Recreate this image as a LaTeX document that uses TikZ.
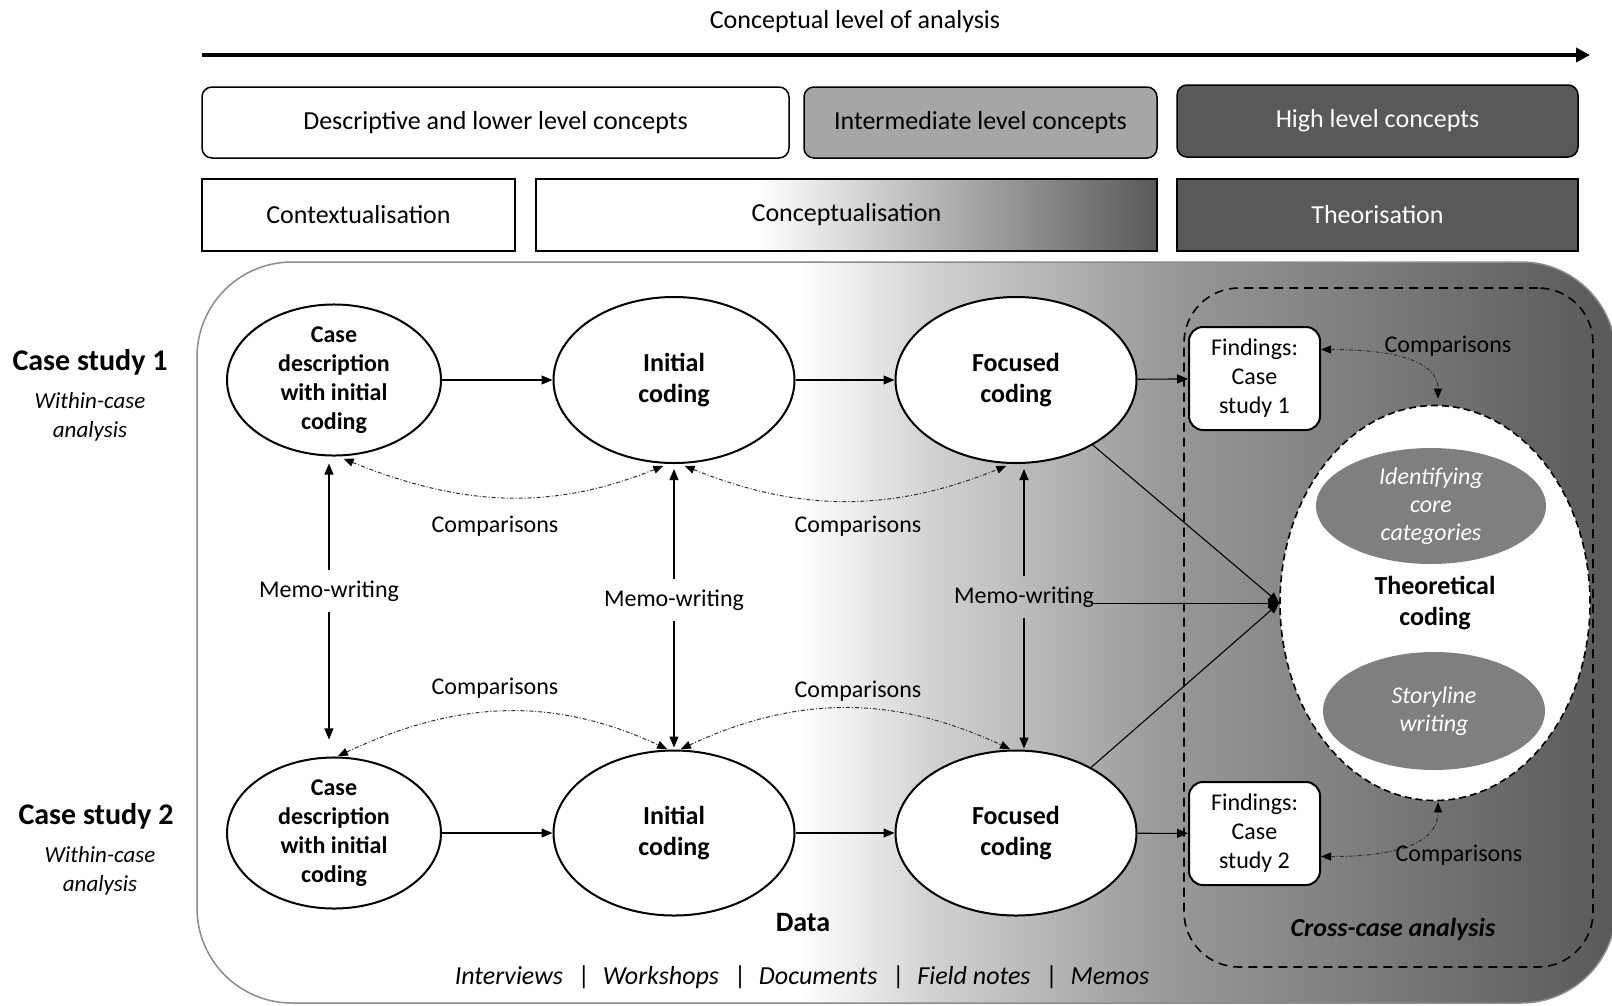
\documentclass[tikz,border=0pt]{standalone}
\usepackage{fontspec}
\setmainfont{Carlito}
\usetikzlibrary{shapes.geometric,arrows.meta}

\definecolor{midgrey}{HTML}{A6A6A6}
\definecolor{darkgrey}{HTML}{595959}
\definecolor{ovalgrey}{HTML}{7F7F7F}
\definecolor{rimgrey}{HTML}{8C8C8C}
\definecolor{cmpgrey}{HTML}{303030}

% white on the left, darkening towards the right edge
\pgfdeclarehorizontalshading{bgfade}{100bp}{rgb(0bp)=(1,1,1); rgb(25bp)=(1,1,1); rgb(33.1bp)=(.82,.82,.82); rgb(47.3bp)=(.60,.60,.60); rgb(61.5bp)=(.47,.47,.47); rgb(74.5bp)=(.35,.35,.35); rgb(100bp)=(.35,.35,.35)}

\newcommand{\fs}[2]{\fontsize{#1}{#2}\selectfont}
\newcommand{\srcsep}{\hspace{15pt}{\upshape|}\hspace{13pt}}

\begin{document}
\begin{tikzpicture}[x=1pt,y=1pt,
  every node/.style={font=\fs{24}{29}, align=center},
  head/.style={draw, line width=1.5pt, rounded corners=10pt, minimum height=71pt, inner sep=0pt, font=\fs{26}{31}},
  phase/.style={draw, line width=1.5pt, minimum height=72pt, inner sep=0pt, font=\fs{26}{31}},
  oval/.style={ellipse, draw, line width=2pt, fill=white, inner sep=0pt, font=\bfseries\fs{26}{31}},
  caseoval/.style={oval, font=\bfseries\fs{24}{29}},
  finding/.style={draw, line width=2pt, rounded corners=14pt, fill=white, minimum width=131pt, minimum height=103pt, inner sep=0pt},
  flow/.style={-{Triangle[length=11pt,width=9pt]}, line width=1.1pt},
  cmp/.style={{Triangle[length=10pt,width=8pt,color=black]}-{Triangle[length=10pt,width=8pt,color=black]}, line width=1pt, dash pattern=on 4pt off 2pt on 1pt off 2pt, draw=cmpgrey},
  memo/.style={inner xsep=2pt, inner ysep=10pt},
  subcat/.style={ellipse, fill=ovalgrey, inner sep=0pt, text=white, font=\itshape\fs{24}{28}},
]
\useasboundingbox (0,0) rectangle (1612,-1005);

% ---- axis of conceptual level ----
\node[font=\fs{26}{31}] (axistitle) at (855,-22) {Conceptual level of analysis};
\coordinate (axisL) at (202,-55);
\coordinate (axisR) at (1590,-55);
\draw[line width=4pt, -{Triangle[length=14pt,width=14pt]}] (axisL) -- (axisR);

% ---- concept levels ----
\node[head, minimum width=587pt] (lvl1) at (495.5,-122.5) {Descriptive and lower level concepts};
\node[head, minimum width=353pt, fill=midgrey] (lvl2) at (980.5,-122.5) {Intermediate level concepts};
\node[head, minimum width=401pt, minimum height=72pt, fill=darkgrey, text=white] (lvl3) at (1377.5,-121) {High level concepts};

% ---- phases ----
\node[phase, minimum width=313pt] (ph1) at (358.5,-215) {Contextualisation};
\fill[white] (536,-179) rectangle (1157,-251);
\shade[left color=white, right color=darkgrey] (756,-179) rectangle (1157,-251);
\node[phase, minimum width=621pt] (ph2) at (846.5,-215) {Conceptualisation};
\node[phase, minimum width=401pt, fill=darkgrey, text=white] (ph3) at (1377.5,-215) {Theorisation};

% ---- data field ----
\fill[white, rounded corners=95pt] (197,-262) rectangle (1616,-1003);
\begin{scope}
  \clip[rounded corners=95pt] (197,-262) rectangle (1616,-1003);
  \shade[shading=bgfade] (800,-250) rectangle (1620,-1010);
\end{scope}
\draw[rimgrey, line width=1.5pt, rounded corners=95pt] (197,-262) rectangle (1616,-1003);

% ---- cross-case area ----
\node[draw, dashed, dash pattern=on 9pt off 6pt, line width=1.6pt, rounded corners=55pt,
      minimum width=409pt, minimum height=679pt] (crossbox) at (1388.5,-627.5) {};
\node[ellipse, draw, dash pattern=on 7pt off 4pt, line width=1.6pt, fill=white,
      minimum width=310pt, minimum height=395pt, inner sep=0pt, font=\bfseries\fs{26}{31}] (TC) at (1435,-603) {Theoretical\\coding};
\node[subcat, minimum width=230pt, minimum height=116pt] (core) at (1431,-506) {Identifying\\core\\categories};
\node[subcat, minimum width=222pt, minimum height=118pt] (story) at (1434,-711) {Storyline\\writing};
\node[font=\bfseries\itshape\fs{26}{31}] (crosslbl) at (1393,-929) {Cross-case analysis};

% ---- case labels ----
\node[font=\bfseries\fs{30}{35}] (cs1) at (90,-362) {Case study 1};
\node[font=\itshape\fs{23}{29}] (wc1) at (90,-417) {Within-case\\analysis};
\node[font=\bfseries\fs{30}{35}] (cs2) at (96,-816) {Case study 2};
\node[font=\itshape\fs{23}{29}] (wc2) at (100,-871) {Within-case\\analysis};

% ---- coding stages ----
\node[caseoval, minimum width=214pt, minimum height=150pt] (E1) at (334,-380) {Case\\description\\with initial\\coding};
\node[oval, minimum width=241pt, minimum height=166pt] (E2) at (674,-380) {Initial\\coding};
\node[oval, minimum width=241pt, minimum height=166pt] (E3) at (1016,-380) {Focused\\coding};
\node[caseoval, minimum width=214pt, minimum height=151pt] (E4) at (334,-833) {Case\\description\\with initial\\coding};
\node[oval, minimum width=241pt, minimum height=165pt] (E5) at (674,-833) {Initial\\coding};
\node[oval, minimum width=241pt, minimum height=165pt] (E6) at (1016,-833) {Focused\\coding};

\node[finding] (F1) at (1254.5,-378.5) {Findings:\\Case\\study 1};
\node[finding] (F2) at (1254.5,-833.5) {Findings:\\Case\\study 2};

% ---- flow between stages ----
\draw[flow] (E1) -- (E2);
\draw[flow] (E2) -- (E3);
\draw[flow] (E3) -- (F1);
\draw[flow] (E4) -- (E5);
\draw[flow] (E5) -- (E6);
\draw[flow] (E6) -- (F2);
\draw[flow] (E3) -- (TC.west);
\draw[flow] (E6) -- (TC.west);

% ---- memo-writing ----
\node[memo] (m1) at (329,-591) {Memo-writing};
\node[memo] (m2) at (674,-600) {Memo-writing};
\node[memo] (m3) at (1024,-597) {Memo-writing};
\draw[flow, shorten >=7pt] (m1) -- (m1 |- E1.south);
\draw[flow, shorten >=17pt] (m1) -- (m1 |- E4.north);
\draw[flow, shorten >=5pt] (m2) -- (E2.south);
\draw[flow, shorten >=2pt] (m2) -- (E5.north);
\draw[flow, shorten >=5pt] (m3) -- (m3 |- E3.south);
\draw[flow, shorten >=1pt] (m3) -- (m3 |- E6.north);
\draw[flow] ([xshift=-4pt]m3.base east) -- (m3.base east -| TC.west);

% ---- constant comparisons ----
\draw[cmp, shorten <=6pt, shorten >=5pt] ([xshift=4pt]E1.south) to[out=-22,in=-158] ([xshift=-6pt]E2.south);
\draw[cmp, shorten <=5pt, shorten >=5pt] ([xshift=6pt]E2.south) to[out=-22,in=-158] ([xshift=-5pt]E3.south);
\draw[cmp, shorten <=1pt, shorten >=1pt] ([xshift=3pt]E4.north) to[out=25,in=155] ([xshift=-6pt]E5.north);
\draw[cmp, shorten <=1pt, shorten >=1pt] ([xshift=6pt]E5.north) to[out=25,in=155] ([xshift=-5pt]E6.north);
\draw[cmp, shorten >=6pt] ([yshift=29pt]F1.east) to[out=0,in=90] ([xshift=3pt]TC.north);
\draw[cmp, shorten >=1pt] ([yshift=-23pt]F2.east) to[out=0,in=-90] ([xshift=3pt]TC.south);

\node (c1) at (495,-526) {Comparisons};
\node (c2) at (858,-526) {Comparisons};
\node (c3) at (495,-688) {Comparisons};
\node (c4) at (858,-691) {Comparisons};
\node (c5) at (1448,-346) {Comparisons};
\node (c6) at (1459,-855) {Comparisons};

% ---- data sources ----
\node[font=\bfseries\fs{28}{33}] (data) at (803,-923) {Data};
\node[font=\itshape\fs{26}{31}] (sources) at (802,-977) {Interviews\srcsep Workshops\srcsep Documents\srcsep Field notes\srcsep Memos};

\end{tikzpicture}
\end{document}
